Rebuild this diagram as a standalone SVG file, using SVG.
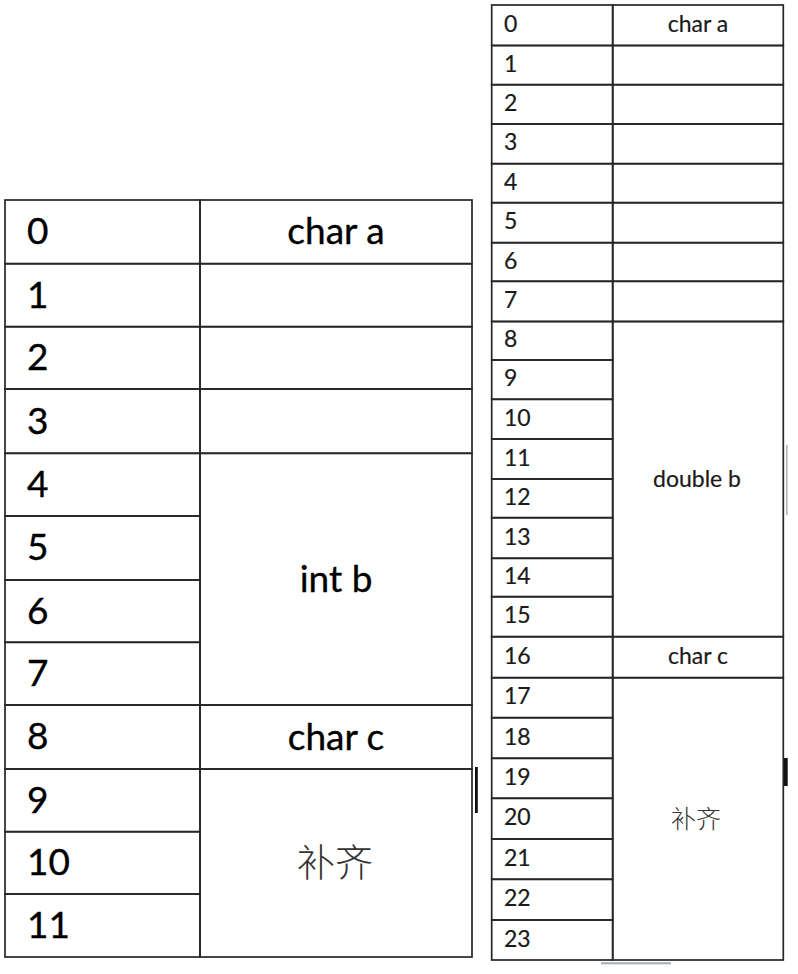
<svg xmlns="http://www.w3.org/2000/svg" width="798" height="974" viewBox="0 0 798 974">
<style>
.c{fill:none;stroke:#262626;stroke-width:1.7}
.L{font-family:Lato,"Liberation Sans",sans-serif;fill:#000;stroke:#000;stroke-width:0.35;font-size:37px}
.R{font-family:Lato,"Liberation Sans",sans-serif;fill:#1a1a1a;stroke:#1a1a1a;stroke-width:0.2;font-size:23px}
.m{text-anchor:middle}
.cj{font-family:"Noto Sans CJK SC","Noto Sans CJK JP",sans-serif;fill:#333;font-weight:300}
</style>
<rect width="798" height="974" fill="#fff"/>
<g id="table-left">
  <g id="L-addr">
    <rect class="c" x="5" y="200" width="195" height="63.7"/>
    <rect class="c" x="5" y="263.7" width="195" height="63"/>
    <rect class="c" x="5" y="326.7" width="195" height="62.3"/>
    <rect class="c" x="5" y="389" width="195" height="64.3"/>
    <rect class="c" x="5" y="453.3" width="195" height="62.7"/>
    <rect class="c" x="5" y="516" width="195" height="64"/>
    <rect class="c" x="5" y="580" width="195" height="62.3"/>
    <rect class="c" x="5" y="642.3" width="195" height="62.7"/>
    <rect class="c" x="5" y="705" width="195" height="64"/>
    <rect class="c" x="5" y="769" width="195" height="62.7"/>
    <rect class="c" x="5" y="831.7" width="195" height="62.3"/>
    <rect class="c" x="5" y="894" width="195" height="63"/>
    <text class="L" x="27" y="244.2">0</text>
    <text class="L" x="27" y="307.5">1</text>
    <text class="L" x="27" y="370.2">2</text>
    <text class="L" x="27" y="433.5">3</text>
    <text class="L" x="27" y="497">4</text>
    <text class="L" x="27" y="560.3">5</text>
    <text class="L" x="27" y="623.5">6</text>
    <text class="L" x="27" y="686">7</text>
    <text class="L" x="27" y="749.3">8</text>
    <text class="L" x="27" y="812.7">9</text>
    <text class="L" x="27" y="875.2">10</text>
    <text class="L" x="27" y="937.8">11</text>
  </g>
  <g id="L-char-a"><rect class="c" x="200" y="200" width="272" height="63.7"/><text class="L m" x="336" y="244.2">char a</text></g>
  <g id="L-pad1"><rect class="c" x="200" y="263.7" width="272" height="63"/></g>
  <g id="L-pad2"><rect class="c" x="200" y="326.7" width="272" height="62.3"/></g>
  <g id="L-pad3"><rect class="c" x="200" y="389" width="272" height="64.3"/></g>
  <g id="L-int-b"><rect class="c" x="200" y="453.3" width="272" height="251.7"/><text class="L m" x="336" y="592.3">int b</text></g>
  <g id="L-char-c"><rect class="c" x="200" y="705" width="272" height="64"/><text class="L m" x="336" y="750">char c</text></g>
  <g id="L-fill"><rect class="c" x="200" y="769" width="272" height="188"/><text class="cj m" x="335" y="876" font-size="38">补齐</text></g>
</g>
<g id="table-right">
  <g id="R-addr">
    <rect class="c" x="491.7" y="5" width="121" height="40.5"/>
    <rect class="c" x="491.7" y="45.5" width="121" height="39.2"/>
    <rect class="c" x="491.7" y="84.7" width="121" height="39.3"/>
    <rect class="c" x="491.7" y="124" width="121" height="39.7"/>
    <rect class="c" x="491.7" y="163.7" width="121" height="39"/>
    <rect class="c" x="491.7" y="202.7" width="121" height="40"/>
    <rect class="c" x="491.7" y="242.7" width="121" height="38.6"/>
    <rect class="c" x="491.7" y="281.3" width="121" height="40.2"/>
    <rect class="c" x="491.7" y="321.5" width="121" height="38.5"/>
    <rect class="c" x="491.7" y="360" width="121" height="39.3"/>
    <rect class="c" x="491.7" y="399.3" width="121" height="39.7"/>
    <rect class="c" x="491.7" y="439" width="121" height="40"/>
    <rect class="c" x="491.7" y="479" width="121" height="38.7"/>
    <rect class="c" x="491.7" y="517.7" width="121" height="40.6"/>
    <rect class="c" x="491.7" y="558.3" width="121" height="38.4"/>
    <rect class="c" x="491.7" y="596.7" width="121" height="40"/>
    <rect class="c" x="491.7" y="636.7" width="121" height="41"/>
    <rect class="c" x="491.7" y="677.7" width="121" height="40"/>
    <rect class="c" x="491.7" y="717.7" width="121" height="40.6"/>
    <rect class="c" x="491.7" y="758.3" width="121" height="40"/>
    <rect class="c" x="491.7" y="798.3" width="121" height="40.7"/>
    <rect class="c" x="491.7" y="839" width="121" height="40.3"/>
    <rect class="c" x="491.7" y="879.3" width="121" height="40.7"/>
    <rect class="c" x="491.7" y="920" width="121" height="40"/>
    <text class="R" x="504" y="31.75">0</text>
    <text class="R" x="504" y="71.6">1</text>
    <text class="R" x="504" y="110.85">2</text>
    <text class="R" x="504" y="150.35">3</text>
    <text class="R" x="504" y="189.7">4</text>
    <text class="R" x="504" y="229.2">5</text>
    <text class="R" x="504" y="268.5">6</text>
    <text class="R" x="504" y="307.9">7</text>
    <text class="R" x="504" y="347.25">8</text>
    <text class="R" x="504" y="386.15">9</text>
    <text class="R" x="504" y="425.65">10</text>
    <text class="R" x="504" y="465.5">11</text>
    <text class="R" x="504" y="504.85">12</text>
    <text class="R" x="504" y="544.5">13</text>
    <text class="R" x="504" y="584">14</text>
    <text class="R" x="504" y="623.2">15</text>
    <text class="R" x="504" y="663.7">16</text>
    <text class="R" x="504" y="704.2">17</text>
    <text class="R" x="504" y="744.5">18</text>
    <text class="R" x="504" y="784.8">19</text>
    <text class="R" x="504" y="825.15">20</text>
    <text class="R" x="504" y="865.65">21</text>
    <text class="R" x="504" y="906.15">22</text>
    <text class="R" x="504" y="946.5">23</text>
  </g>
  <g id="R-char-a"><rect class="c" x="612.7" y="5" width="170.6" height="40.5"/><text class="R m" x="698" y="31.75">char a</text></g>
  <g id="R-pad1"><rect class="c" x="612.7" y="45.5" width="170.6" height="39.2"/></g>
  <g id="R-pad2"><rect class="c" x="612.7" y="84.7" width="170.6" height="39.3"/></g>
  <g id="R-pad3"><rect class="c" x="612.7" y="124" width="170.6" height="39.7"/></g>
  <g id="R-pad4"><rect class="c" x="612.7" y="163.7" width="170.6" height="39"/></g>
  <g id="R-pad5"><rect class="c" x="612.7" y="202.7" width="170.6" height="40"/></g>
  <g id="R-pad6"><rect class="c" x="612.7" y="242.7" width="170.6" height="38.6"/></g>
  <g id="R-pad7"><rect class="c" x="612.7" y="281.3" width="170.6" height="40.2"/></g>
  <g id="R-double-b"><rect class="c" x="612.7" y="321.5" width="170.6" height="315.2"/><text class="R m" x="697" y="486.7">double b</text></g>
  <g id="R-char-c"><rect class="c" x="612.7" y="636.7" width="170.6" height="41"/><text class="R m" x="698" y="663.7">char c</text></g>
  <g id="R-fill"><rect class="c" x="612.7" y="677.7" width="170.6" height="282.3"/><text class="cj m" x="696" y="827.5" font-size="25">补齐</text></g>
</g>
<g id="marks">
  <rect x="475" y="767" width="2.8" height="46" fill="#111"/>
  <rect x="784" y="758" width="3.7" height="28" fill="#111"/>
  <rect x="785.9" y="445" width="1.7" height="70" fill="#b4b8bd"/>
  <rect x="601" y="962.3" width="70" height="2" fill="#a4abb3"/>
</g>
</svg>
